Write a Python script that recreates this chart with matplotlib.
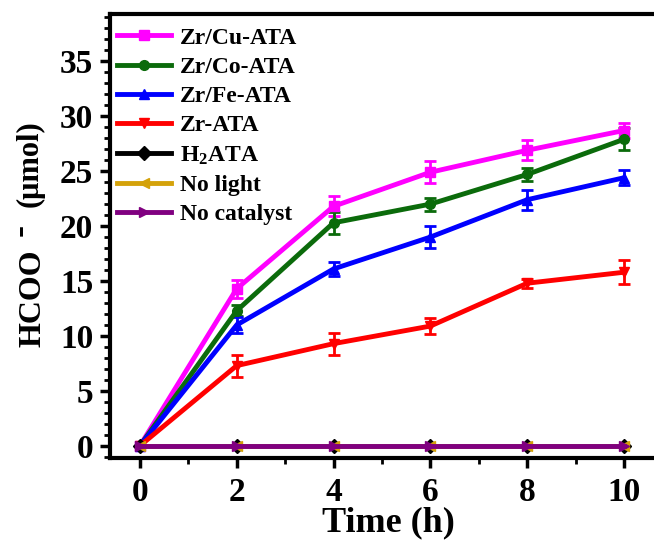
import numpy as np
import matplotlib
matplotlib.use('Agg')
import matplotlib.pyplot as plt
from matplotlib.lines import Line2D
from matplotlib.ticker import MultipleLocator

plt.rcParams['font.family'] = ['Liberation Serif', 'DejaVu Serif']
plt.rcParams['font.weight'] = 'bold'
plt.rcParams['mathtext.fontset'] = 'custom'
plt.rcParams['mathtext.rm'] = 'Liberation Serif:bold'
plt.rcParams['mathtext.it'] = 'Liberation Serif:bold'
plt.rcParams['mathtext.bf'] = 'Liberation Serif:bold'

# Data
time_h = [0, 2, 4, 6, 8, 10]

cu = [0, 14.3, 21.8, 24.9, 26.9, 28.7]
cu_err = [0, 0.8, 0.9, 1.0, 0.9, 0.7]
co = [0, 12.3, 20.3, 22.0, 24.7, 27.9]
co_err = [0, 0.5, 1.0, 0.6, 0.6, 1.0]
fe = [0, 11.0, 16.1, 19.0, 22.4, 24.4]
fe_err = [0, 0.7, 0.6, 1.0, 0.9, 0.7]
zr = [0, 7.3, 9.3, 10.9, 14.8, 15.8]
zr_err = [0, 1.0, 1.0, 0.7, 0.4, 1.1]
h2ata = [0, 0, 0, 0, 0, 0]
no_light = [0, 0, 0, 0, 0, 0]
no_cat = [0, 0, 0, 0, 0, 0]

labels = ['Zr/Cu-ATA', 'Zr/Co-ATA', 'Zr/Fe-ATA', 'Zr-ATA',
          'H$_2$ATA', 'No light', 'No catalyst']
colors = ['#ff00ff', '#0b6b0b', '#0000ff', '#ff0000', 'black', '#d4a20a', '#800080']
markers = ['s', 'o', '^', 'v', 'D', '<', '>']

series = [cu, co, fe, zr, h2ata, no_light, no_cat]
errors = [cu_err, co_err, fe_err, zr_err, None, None, None]

fig = plt.figure(figsize=(6.54, 5.40), dpi=100)
ax = fig.add_axes([0.168, 0.152, 0.832, 0.822])

handles = []
for vals, err, lab, col, mk in zip(series, errors, labels, colors, markers):
    ax.errorbar(time_h, vals, yerr=err, color=col, marker=mk, markersize=7,
                linewidth=3.5, elinewidth=2, capsize=4.5, capthick=2)
    handles.append(Line2D([], [], color=col, marker=mk, markersize=7,
                          linewidth=3.5, label=lab))

ax.set_xlim(-0.62, 10.62)
ax.set_ylim(-1.1, 39.3)
ax.xaxis.set_major_locator(MultipleLocator(2))
ax.xaxis.set_minor_locator(MultipleLocator(1))
ax.yaxis.set_major_locator(MultipleLocator(5))
ax.yaxis.set_minor_locator(MultipleLocator(1))
ax.tick_params(which='major', direction='out', length=7, width=2.5, labelsize=24)
ax.tick_params(axis='x', which='major', pad=7)
ax.tick_params(axis='y', which='major', pad=5)
ax.tick_params(which='minor', direction='out', length=4, width=2)
for s in ax.spines.values():
    s.set_linewidth(3)
ax.spines['right'].set_visible(False)

# axis titles
fig.text(0.594, 0.0167, 'Time (h)', fontsize=26, fontweight='bold',
         ha='center', va='baseline')
# y title: "HCOO" + big superscript minus + smaller "(umol)"
fig.text(0.062, (540 - 347) / 540, 'HCOO', fontsize=23, fontweight='bold',
         rotation=90, rotation_mode='anchor', ha='left', va='baseline')
fig.text(0.032, (540 - 230) / 540, '-', fontsize=26, fontweight='bold',
         rotation=90, rotation_mode='anchor', ha='center', va='center')
fig.text(0.058, (540 - 207) / 540, '(μmol)', fontsize=22, fontweight='bold',
         rotation=90, rotation_mode='anchor', ha='left', va='baseline')

ax.legend(handles=handles, loc='upper left', frameon=False, fontsize=17,
          handlelength=2.3, handletextpad=0.35, labelspacing=0.33,
          borderpad=0, borderaxespad=0,
          bbox_to_anchor=(0.179, 0.95), bbox_transform=fig.transFigure)

plt.savefig('out.png', dpi=100)
